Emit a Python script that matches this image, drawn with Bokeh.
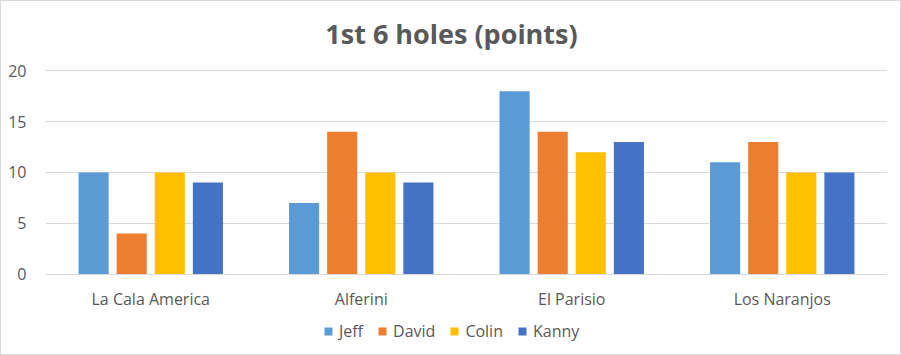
from bokeh.plotting import figure
from bokeh.models import (FactorRange, Range1d, Legend, LegendItem,
                          FixedTicker, ColumnDataSource)
from bokeh.core.properties import value
from bokeh.transform import dodge
from bokeh.embed import file_html
from bokeh.resources import INLINE

courses = ["La Cala America", "Alferini", "El Parisio", "Los Naranjos"]
players = ["Jeff", "David", "Colin", "Kanny"]
jeff = [10, 7, 18, 11]
david = [4, 14, 14, 13]
colin = [10, 10, 12, 10]
kanny = [9, 9, 13, 10]
y_ticks = [0, 5, 10, 15, 20]
chart_title = "1st 6 holes (points)"

colors = ["#5B9BD5", "#ED7D31", "#FFC000", "#4472C4"]
offsets = [-0.2715, -0.0905, 0.0905, 0.2715]
FONT = "Open Sans"
TXT = "#595959"

src = ColumnDataSource(dict(course=courses, Jeff=jeff, David=david, Colin=colin, Kanny=kanny))

p = figure(width=901, height=355, output_backend="svg", toolbar_location=None,
           x_range=FactorRange(factors=courses, range_padding=0),
           y_range=Range1d(-8.12, 26.83),
           min_border_left=44, min_border_right=15, min_border_top=0, min_border_bottom=0)
p.styles = {"border": "1px solid #D9D9D9", "box-sizing": "border-box"}

items = []
for name, col, off in zip(players, colors, offsets):
    r = p.vbar(x=dodge("course", off, range=p.x_range), top=name, width=0.143,
               bottom=0, source=src, fill_color=col, line_color=None)
    items.append(LegendItem(label=name, renderers=[r]))

# category labels below the baseline
p.text(x="course", y=-2.45, text="course", source=src, text_align="center",
       text_baseline="middle", text_font=value(FONT), text_font_size="16px",
       text_color=TXT)

# chart title, centred on the chart
tsrc = ColumnDataSource(dict(x=[courses[1]], t=[chart_title]))
p.text(x=dodge("x", 0.4286, range=p.x_range), y=23.66, text="t", source=tsrc,
       text_align="center", text_baseline="middle", text_font=value(FONT),
       text_font_size="27px", text_font_style="bold", text_color=TXT)

p.xaxis.visible = False
p.yaxis.ticker = FixedTicker(ticks=y_ticks)
p.yaxis.axis_line_color = None
p.yaxis.major_tick_line_color = None
p.yaxis.minor_tick_line_color = None
p.yaxis.major_label_text_font = FONT
p.yaxis.major_label_text_font_size = "16px"
p.yaxis.major_label_text_color = TXT
p.yaxis.major_label_standoff = 13

p.xgrid.grid_line_color = None
p.ygrid.grid_line_color = "#D9D9D9"
p.ygrid.ticker = FixedTicker(ticks=y_ticks)
p.outline_line_color = None

legend = Legend(items=items, orientation="horizontal", location=(278, 14),
                label_text_font=FONT, label_text_font_size="16px",
                label_text_color=TXT, glyph_width=10, glyph_height=10,
                spacing=14, label_standoff=6, border_line_color=None,
                background_fill_alpha=0, padding=0, margin=0)
p.add_layout(legend, "center")

open("out.html", "w").write(file_html(p, INLINE))
